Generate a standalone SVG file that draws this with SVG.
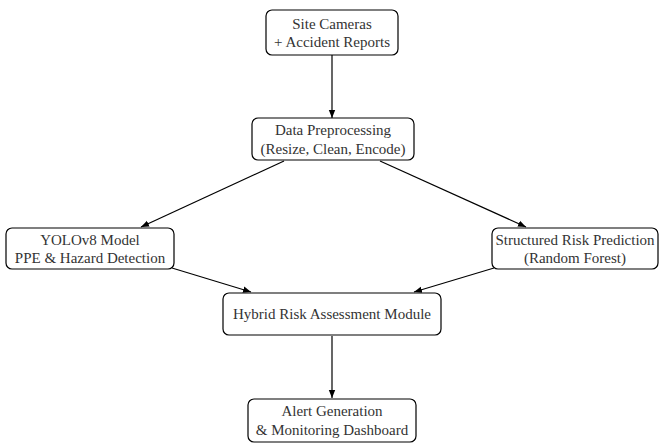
<svg xmlns="http://www.w3.org/2000/svg" width="660" height="445" viewBox="0 0 660 445">
<style>
.box{fill:#fff;stroke:#000;stroke-width:1.2}
.t{font-family:'Liberation Serif','Times New Roman',Times,serif;font-size:15px;fill:#333;text-anchor:middle}
.c{stroke:#000;stroke-width:1.2;fill:none;marker-end:url(#ah)}
</style>
<defs>
<marker id="ah" viewBox="0 0 10 10" refX="10" refY="5" markerWidth="8" markerHeight="8" markerUnits="userSpaceOnUse" orient="auto">
<path d="M0,1 L10,5 L0,9 z" fill="#000"/>
</marker>
</defs>
<rect width="660" height="445" fill="#fff"/>
<g id="connectors">
<line class="c" x1="332" y1="55" x2="332" y2="118"/>
<line class="c" x1="284" y1="161" x2="141" y2="227"/>
<line class="c" x1="380" y1="161" x2="526" y2="227"/>
<line class="c" x1="172" y1="268" x2="251" y2="292"/>
<line class="c" x1="494" y1="268" x2="414" y2="292"/>
<line class="c" x1="332" y1="336" x2="332" y2="398"/>
</g>
<g id="n1">
<rect class="box" x="266" y="10" width="132" height="45" rx="6"/>
<text class="t" x="332" y="29" font-family="Liberation Serif">Site Cameras</text>
<text class="t" x="332" y="47" font-family="Liberation Serif">+ Accident Reports</text>
</g>
<g id="n2">
<rect class="box" x="252" y="118" width="162" height="42" rx="6"/>
<text class="t" x="333" y="135">Data Preprocessing</text>
<text class="t" x="333" y="154">(Resize, Clean, Encode)</text>
</g>
<g id="n3">
<rect class="box" x="6" y="228" width="168" height="41" rx="6"/>
<text class="t" x="90" y="245">YOLOv8 Model</text>
<text class="t" x="90" y="263">PPE &amp; Hazard Detection</text>
</g>
<g id="n4">
<rect class="box" x="492" y="228" width="166" height="41" rx="6"/>
<text class="t" x="575" y="245">Structured Risk Prediction</text>
<text class="t" x="575" y="263">(Random Forest)</text>
</g>
<g id="n5">
<rect class="box" x="223" y="293" width="218" height="42" rx="6"/>
<text class="t" x="332" y="319">Hybrid Risk Assessment Module</text>
</g>
<g id="n6">
<rect class="box" x="248" y="399" width="168" height="43" rx="6"/>
<text class="t" x="332" y="416">Alert Generation</text>
<text class="t" x="332" y="435">&amp; Monitoring Dashboard</text>
</g>
</svg>
